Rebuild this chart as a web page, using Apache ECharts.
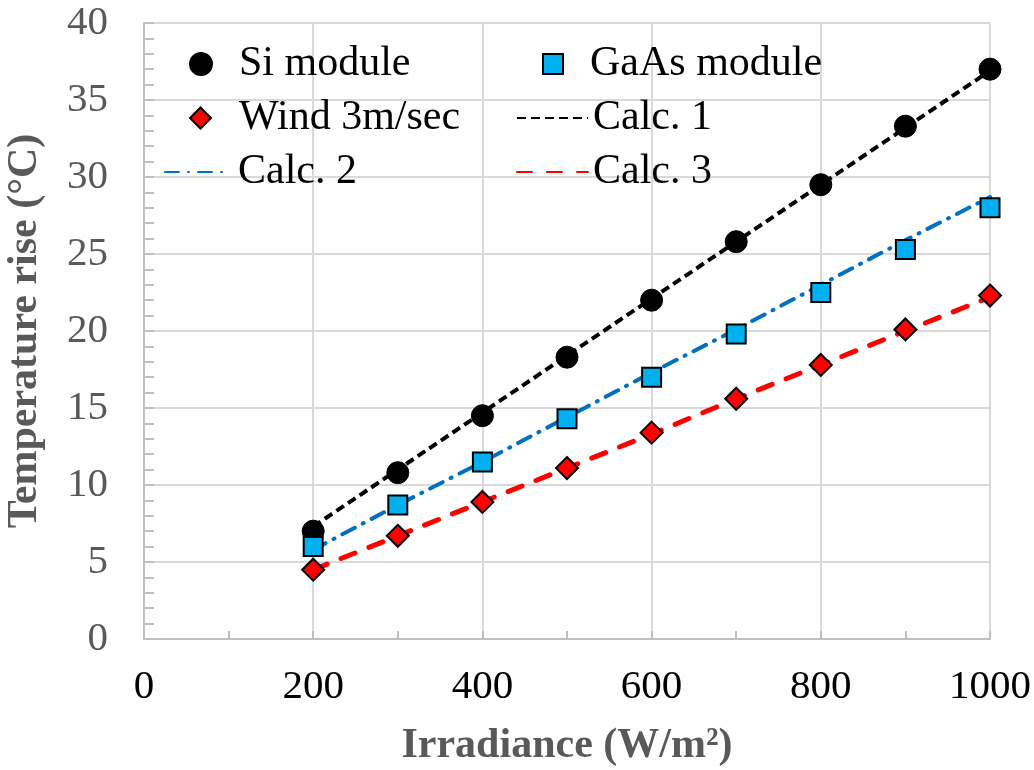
<!DOCTYPE html>
<html>
<head>
<meta charset="utf-8">
<script src="https://cdn.jsdelivr.net/npm/echarts@6/dist/echarts.min.js"></script>
<style>
html,body{margin:0;padding:0;background:#fff;}
#chart{width:1034px;height:770px;}
</style>
</head>
<body>
<div id="chart"></div>
<script>
const irradiance = [200, 300, 400, 500, 600, 700, 800, 900, 1000];
const siModule   = [7.0, 10.8, 14.5, 18.3, 22.0, 25.8, 29.5, 33.3, 37.0];
const gaasModule = [6.0, 8.7, 11.5, 14.3, 17.0, 19.8, 22.5, 25.3, 28.0];
const wind3      = [4.5, 6.7, 8.9, 11.1, 13.4, 15.6, 17.8, 20.1, 22.3];
const calc1      = [7.3, 11.0, 14.7, 18.4, 22.1, 25.8, 29.5, 33.2, 36.9];
const calc2      = [5.8, 8.7, 11.5, 14.4, 17.3, 20.1, 23.0, 25.9, 28.7];
const calc3      = [4.5, 6.7, 8.9, 11.1, 13.3, 15.6, 17.8, 20.0, 22.2];
const xTicks = [0, 200, 400, 600, 800, 1000];
const yTicks = [0, 5, 10, 15, 20, 25, 30, 35, 40];

const pairs = ys => irradiance.map((x, i) => [x, ys[i]]);
const FONT = 'Liberation Serif';

function legendAt(name, left, top, w, h, spacer, hideSymbol) {
  const lg = {
    data: [name], left: left, top: top, padding: 0,
    itemWidth: w, itemHeight: h, selectedMode: false,
    textStyle: {
      fontFamily: FONT, fontSize: 42, color: '#000', lineHeight: 44,
      rich: { s: { width: spacer, fontSize: 42, fontFamily: FONT }, t: { fontFamily: FONT, fontSize: 42, color: '#000', lineHeight: 44 } }
    },
    formatter: n => '{s| }{t|' + n + '}'
  };
  if (hideSymbol) {
    lg.itemStyle = { color: 'rgba(0,0,0,0)', borderColor: 'rgba(0,0,0,0)', borderWidth: 0, opacity: 0 };
  }
  return lg;
}

const chart = echarts.init(document.getElementById('chart'), null, { renderer: 'canvas' });
chart.setOption({
  animation: false,
  backgroundColor: '#fff',
  grid: { left: 144, right: 44, top: 23, bottom: 131, containLabel: false, outerBoundsMode: 'none' },
  legend: [
    legendAt('Si module', 189, 42, 22, 22, 22),
    legendAt('Wind 3m/sec', 189, 96, 21, 21, 23),
    legendAt('Calc. 2', 164, 150, 60, 22, 8, true),
    legendAt('GaAs module', 542, 42, 20, 20, 22),
    legendAt('Calc. 1', 516, 96, 71, 22, 0, true),
    legendAt('Calc. 3', 516, 150, 71, 22, 0, true)
  ],
  xAxis: {
    type: 'value', min: xTicks[0], max: xTicks[xTicks.length - 1], interval: 200,
    name: 'Irradiance (W/m²)', nameLocation: 'middle', nameGap: 86,
    nameTextStyle: { fontFamily: FONT, fontSize: 42, fontWeight: 'bold', color: '#595959' },
    axisLine: { show: true, lineStyle: { color: '#bfbfbf', width: 2 } },
    axisTick: { show: true, inside: true, length: 8, lineStyle: { color: '#bfbfbf', width: 2 } },
    minorTick: { show: true, splitNumber: 2, length: 8, lineStyle: { color: '#bfbfbf', width: 2 } },
    splitLine: { show: true, lineStyle: { color: '#d9d9d9', width: 2 } },
    axisLabel: { fontFamily: FONT, fontSize: 41, color: '#000', margin: 28, formatter: v => String(v) }
  },
  yAxis: {
    type: 'value', min: yTicks[0], max: yTicks[yTicks.length - 1], interval: 5,
    name: 'Temperature rise (°C)', nameLocation: 'middle', nameGap: 98,
    nameTextStyle: { fontFamily: FONT, fontSize: 42, fontWeight: 'bold', color: '#595959' },
    axisLine: { show: true, lineStyle: { color: '#bfbfbf', width: 2 } },
    axisTick: { show: true, inside: true, length: 10, lineStyle: { color: '#bfbfbf', width: 2 } },
    minorTick: { show: true, splitNumber: 5, length: 10, lineStyle: { color: '#bfbfbf', width: 2 } },
    splitLine: { show: true, lineStyle: { color: '#d9d9d9', width: 2 } },
    axisLabel: { fontFamily: FONT, fontSize: 41, color: '#595959', margin: 36, formatter: v => String(v) }
  },
  series: [
    { name: 'Calc. 1', type: 'line', data: pairs(calc1), symbol: 'none', z: 2,
      lineStyle: { color: '#000', width: 4, type: [9, 5], cap: 'butt' }, itemStyle: { color: '#000' } },
    { name: 'Calc. 2', type: 'line', data: pairs(calc2), symbol: 'none', z: 2,
      lineStyle: { color: '#0070C0', width: 4, type: [14, 9, 1, 9], cap: 'round' }, itemStyle: { color: '#0070C0' } },
    { name: 'Calc. 3', type: 'line', data: pairs(calc3), symbol: 'none', z: 2,
      lineStyle: { color: '#FF0000', width: 5, type: [15, 15], cap: 'round' }, itemStyle: { color: '#FF0000' } },
    { name: 'Si module', type: 'scatter', data: pairs(siModule), symbol: 'circle', symbolSize: 22, z: 3,
      itemStyle: { color: '#000', borderColor: '#000', borderWidth: 1, opacity: 1 } },
    { name: 'GaAs module', type: 'scatter', data: pairs(gaasModule), symbol: 'rect', symbolSize: 19, z: 4,
      itemStyle: { color: '#00B0F0', borderColor: '#000', borderWidth: 2, opacity: 1 } },
    { name: 'Wind 3m/sec', type: 'scatter', data: pairs(wind3), symbol: 'diamond', symbolSize: 22, z: 4,
      itemStyle: { color: '#FF0000', borderColor: '#000', borderWidth: 2, opacity: 1 } }
  ]
});
</script>
</body>
</html>
